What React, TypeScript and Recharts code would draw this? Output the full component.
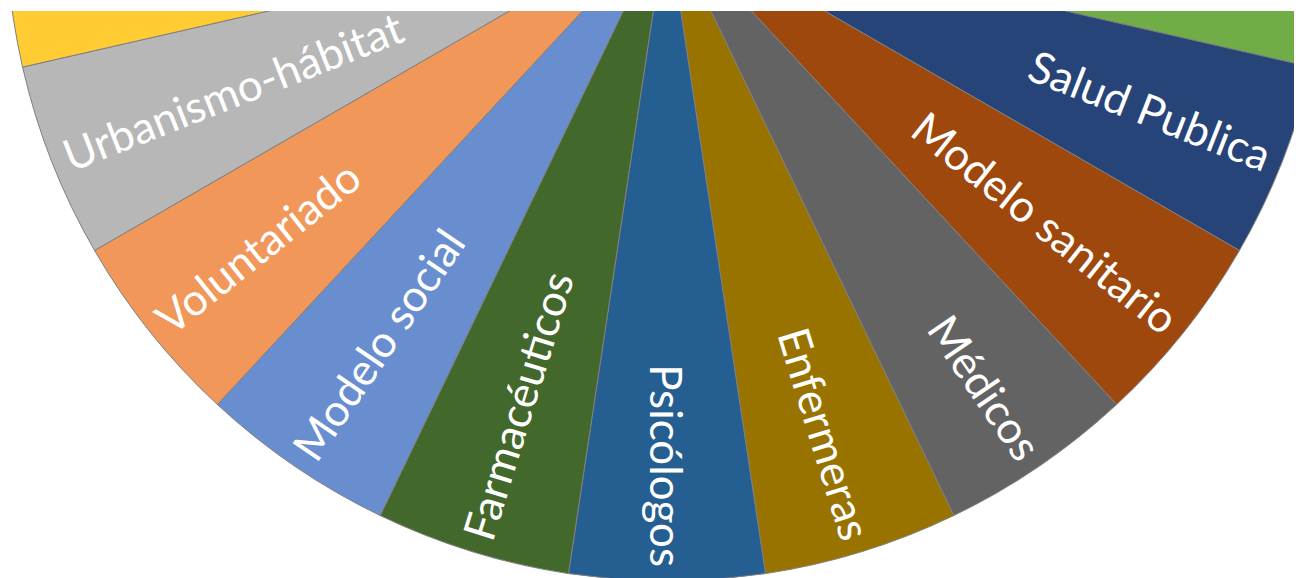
import React from "react";
import { PieChart, Pie, Cell } from "recharts";

const categories: string[] = [
  "", "", "", "", "", "",
  "Salud Publica", "Modelo sanitario", "Médicos", "Enfermeras", "Psicólogos",
  "Farmacéuticos", "Modelo social", "Voluntariado", "Urbanismo-hábitat",
  "", "", "", "", "", "",
];

const values: number[] = [
  1, 1, 1, 1, 1, 1, 1, 1, 1, 1, 1, 1, 1, 1, 1, 1, 1, 1, 1, 1, 1,
];

const colors: string[] = [
  "#4472C4", "#ED7D31", "#A5A5A5", "#FFC000", "#5B9BD5", "#70AD47",
  "#264478", "#9E480E", "#636363", "#997300", "#255E91", "#43682B",
  "#698ED0", "#F1975A", "#B7B7B7", "#FFCD33", "#7CAFDD", "#8CC168",
  "#335AA1", "#D26012", "#848484",
];

const data = categories.map((name, i) => ({ name, value: values[i] }));

const RADIAN = Math.PI / 180;

const renderLabel = (props: any) => {
  const { cx, cy, midAngle, outerRadius, index } = props;
  const text = categories[index];
  if (!text) return null;
  const r = outerRadius - 14;
  const x = cx + r * Math.cos(-midAngle * RADIAN);
  const y = cy + r * Math.sin(-midAngle * RADIAN);
  let screen = -midAngle;
  while (screen > 180) screen -= 360;
  while (screen <= -180) screen += 360;
  let rot = screen;
  let anchor: "start" | "end" = "end";
  if (screen > 90.5 || screen < -89.5) {
    rot = screen > 0 ? screen - 180 : screen + 180;
    anchor = "start";
  }
  return (
    <text
      x={x}
      y={y}
      fill="#FFFFFF"
      fontFamily="Lato, 'Open Sans', sans-serif"
      fontSize={44}
      textAnchor={anchor}
      dominantBaseline="central"
      transform={`rotate(${rot}, ${x}, ${y})`}
    >
      {text}
    </text>
  );
};

export default function App() {
  return (
    <div style={{ marginTop: 3, width: 1294, height: 567 }}>
      <PieChart width={1294} height={567} margin={{ top: 0, right: 0, bottom: 0, left: 0 }}>
        <Pie
          data={data}
          dataKey="value"
          nameKey="name"
          cx={659}
          cy={-91}
          outerRadius={661}
          innerRadius={0}
          startAngle={90}
          endAngle={-270}
          stroke="#7F7F7F"
          strokeWidth={1}
          label={renderLabel}
          labelLine={false}
          isAnimationActive={false}
        >
          {data.map((d, i) => (
            <Cell key={i} fill={colors[i]} />
          ))}
        </Pie>
      </PieChart>
    </div>
  );
}
